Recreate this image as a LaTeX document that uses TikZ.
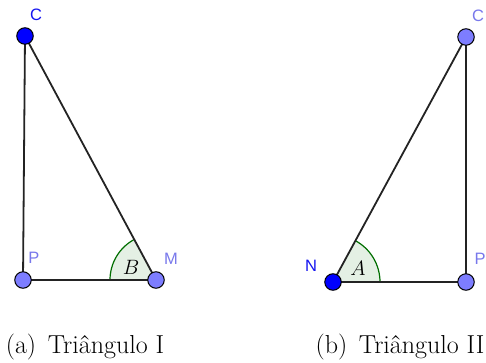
\documentclass[tikz,border=0pt]{standalone}
\usepackage{fontspec}
\usepackage{tikz}
\usetikzlibrary{positioning, calc}
\newfontfamily\geofont{Liberation Sans}
\definecolor{ptdark}{RGB}{0,0,255}
\definecolor{ptlight}{RGB}{125,125,255}
\definecolor{lbldark}{RGB}{20,20,240}
\definecolor{lbllight}{RGB}{120,120,235}
\definecolor{segcol}{RGB}{35,35,35}
\definecolor{angdraw}{RGB}{0,110,0}
\definecolor{angfill}{RGB}{228,240,228}
\tikzset{
  darkpt/.style={circle, draw=black, fill=ptdark, minimum size=16.5pt,
    inner sep=0pt, line width=1pt},
  lightpt/.style={circle, draw=black, fill=ptlight, minimum size=16.5pt,
    inner sep=0pt, line width=1pt},
  darklbl/.style={font=\geofont\fontsize{16.5}{18}\selectfont, text=lbldark},
  lightlbl/.style={font=\geofont\fontsize{16.5}{18}\selectfont, text=lbllight},
  anglbl/.style={font=\fontsize{20}{22}\selectfont},
  seg/.style={color=segcol, line width=1.8pt},
  caption/.style={font=\fontsize{26}{29}\selectfont}
}

\begin{document}
\begin{tikzpicture}[x=1pt, y=1pt]
  \useasboundingbox (0,0) rectangle (486,362);

  % Triangulo I
  \coordinate (C1) at (25,326);
  \coordinate (P1) at (23,82);
  \coordinate (M1) at (156,82);
  \fill[angfill] (M1) -- ++(180:46) arc[start angle=180, end angle=118.2, radius=46] -- cycle;
  \draw[angdraw, line width=1.2pt] ($(M1)+(180:46)$) arc[start angle=180, end angle=118.2, radius=46];
  \node[anglbl] (angB) at (131,95) {$B$};
  \draw[seg] (C1) -- (P1) -- (M1) -- cycle;
  \node[darkpt] (c1) at (C1) {};
  \node[lightpt] (p1) at (P1) {};
  \node[lightpt] (m1) at (M1) {};
  \node[darklbl] (lc1) at (36,347) {C};
  \node[lightlbl] (lp1) at (34,104) {P};
  \node[lightlbl] (lm1) at (171,103) {M};

  % Triangulo II
  \coordinate (C2) at (466,325);
  \coordinate (N2) at (333,80);
  \coordinate (P2) at (466,80);
  \fill[angfill] (N2) -- ++(0:47) arc[start angle=0, end angle=61.5, radius=47] -- cycle;
  \draw[angdraw, line width=1.2pt] ($(N2)+(0:47)$) arc[start angle=0, end angle=61.5, radius=47];
  \node[anglbl] (angA) at (358,94) {$A$};
  \draw[seg] (C2) -- (N2) -- (P2) -- cycle;
  \node[lightpt] (c2) at (C2) {};
  \node[darkpt] (n2) at (N2) {};
  \node[lightpt] (p2) at (P2) {};
  \node[lightlbl] (lc2) at (478,346) {C};
  \node[darklbl] (ln2) at (311,96) {N};
  \node[lightlbl] (lp2) at (480,103) {P};

  % legendas
  \node[caption] (capa) at (85,15) {(a)\hspace{0.45em}Triângulo I};
  \node[caption] (capb) at (400,15) {(b)\hspace{0.45em}Triângulo II};
\end{tikzpicture}
\end{document}
